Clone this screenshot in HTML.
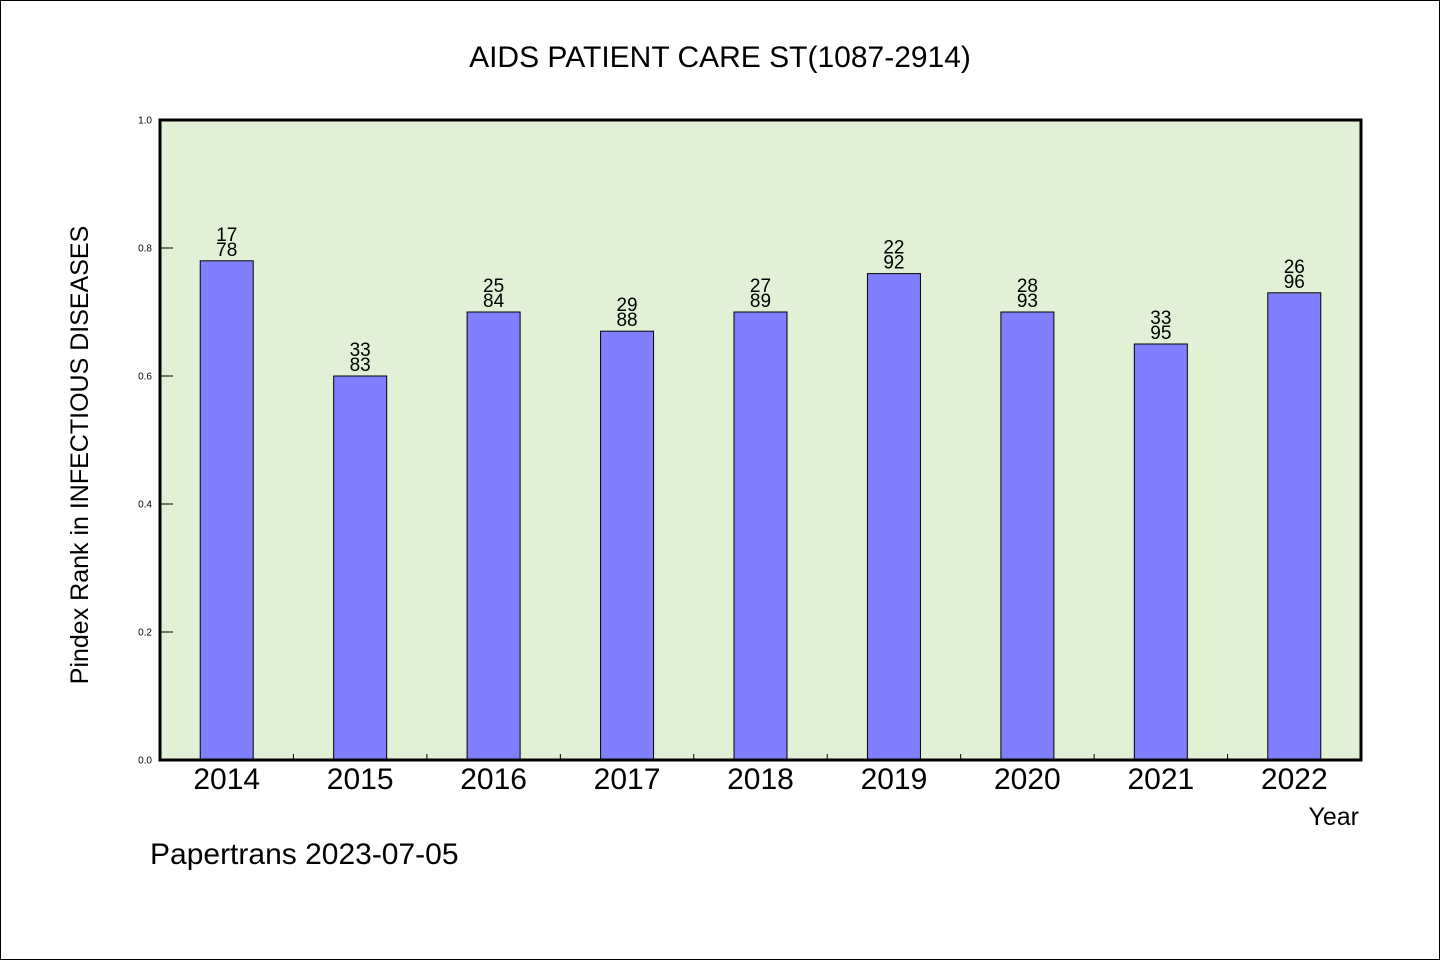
<!DOCTYPE html>
<html><head><meta charset="utf-8"><style>
body{margin:0;background:#fff}
svg{display:block;font-family:"WenQuanYi Zen Hei","Liberation Sans",sans-serif}
</style></head><body>
<svg id="chart" width="1440" height="960" xmlns="http://www.w3.org/2000/svg">
<rect x="0.5" y="0.5" width="1439" height="959" fill="#fff" stroke="#000"/>
<text x="720" y="67" font-size="30" text-anchor="middle">AIDS PATIENT CARE ST(1087-2914)</text>
<rect x="160" y="120" width="1201" height="640" fill="#e2f0d6"/>
<g id="bars"></g>
<g id="axes"></g>
<rect x="160" y="120" width="1201" height="640" fill="none" stroke="#000" stroke-width="3"/>
<text transform="translate(88,455) rotate(-90)" font-size="25" text-anchor="middle">Pindex Rank in INFECTIOUS DISEASES</text>
<text x="1359" y="825" font-size="25" text-anchor="end">Year</text>
<text x="150" y="864" font-size="30">Papertrans 2023-07-05</text>
</svg>
<script>
const categories=["2014","2015","2016","2017","2018","2019","2020","2021","2022"];
const values=[0.78,0.60,0.70,0.67,0.70,0.76,0.70,0.65,0.73];
const ranks=["17","33","25","29","27","22","28","33","26"];
const totals=["78","83","84","88","89","92","93","95","96"];
const yTicks=[0,0.2,0.4,0.6,0.8,1.0];
const ns="http://www.w3.org/2000/svg";
const X0=160,W=1201,Y0=760,H=640;
const step=W/categories.length;
const xc=i=>X0+step*(i+0.5);
const y=v=>Y0-v*H;
function mk(t,a,p){const e=document.createElementNS(ns,t);for(const k in a)e.setAttribute(k,a[k]);p.appendChild(e);return e;}
const bars=document.getElementById('bars'),axes=document.getElementById('axes');
categories.forEach((c,i)=>{
  const r=mk('rect',{x:xc(i)-26.5,y:y(values[i]),width:53,height:Y0-y(values[i]),fill:'#8080ff',stroke:'#000','stroke-width':1},bars);
  
  
  const t1=mk('text',{x:xc(i),y:y(values[i])-20,'font-size':19,'text-anchor':'middle'},bars);t1.textContent=ranks[i];
  
  
  const t2=mk('text',{x:xc(i),y:y(values[i])-5,'font-size':19,'text-anchor':'middle'},bars);t2.textContent=totals[i];
  
  
  const xl=mk('text',{x:xc(i),y:789,'font-size':30,'text-anchor':'middle'},axes);xl.textContent=c;
  
  
  if(i>0){const tk=mk('line',{x1:X0+step*i,x2:X0+step*i,y1:Y0,y2:Y0-6,stroke:'#000'},axes);
    
    }
});
yTicks.forEach(v=>{
  const tk=mk('line',{x1:X0,x2:X0+13,y1:y(v),y2:y(v),stroke:'#000'},axes);
  
  
  const l=mk('text',{x:152,y:y(v)+3.5,'font-size':10,'text-anchor':'end'},axes);l.textContent=v.toFixed(1);
  
  
});
</script>
</body></html>
